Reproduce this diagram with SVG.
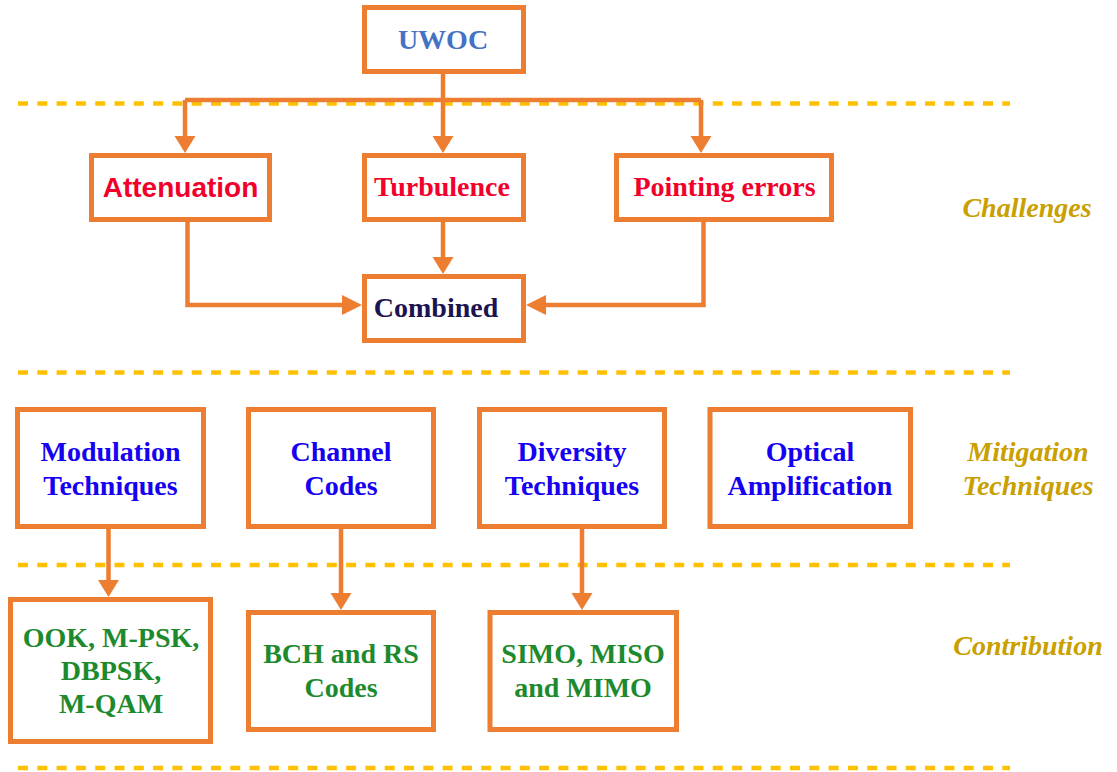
<svg xmlns="http://www.w3.org/2000/svg" width="1117" height="772" viewBox="0 0 1117 772">
  <style>
    .box { fill: #ffffff; stroke: #ED7D31; stroke-width: 5; }
    .conn { fill: none; stroke: #ED7D31; stroke-width: 4.5; }
    .sep { fill: none; stroke: #FFC000; stroke-width: 4.5; stroke-dasharray: 10 9.3; }
    .serif { font-family: "Liberation Serif", "Times New Roman", serif; font-weight: bold; font-size: 28px; text-anchor: middle; }
    .sans { font-family: "Liberation Sans", Arial, sans-serif; font-weight: bold; font-size: 28px; text-anchor: middle; }
    .red { fill: #F2002B; }
    .blue { fill: #1600F2; }
    .green { fill: #1E8A2E; }
    .gold { fill: #C9A000; font-style: italic; }
  </style>
  <defs>
    <marker id="arrowDown" markerUnits="userSpaceOnUse" markerWidth="18" markerHeight="22" refX="0" refY="10.5" orient="auto" overflow="visible">
      <path d="M0,0 L17,10.5 L0,21 z" fill="#ED7D31"/>
    </marker>
    <marker id="arrowSide" markerUnits="userSpaceOnUse" markerWidth="21" markerHeight="21" refX="0" refY="10" orient="auto" overflow="visible">
      <path d="M0,0 L20,10 L0,20 z" fill="#ED7D31"/>
    </marker>
  </defs>

  <!-- section separators -->
  <g id="separators">
    <line class="sep" x1="18" y1="103.5" x2="1010" y2="103.5"/>
    <line class="sep" x1="18" y1="372.5" x2="1010" y2="372.5"/>
    <line class="sep" x1="18" y1="565" x2="1010" y2="565"/>
    <line class="sep" x1="18" y1="768" x2="1010" y2="768"/>
  </g>

  <!-- connectors -->
  <g id="connectors">
    <path class="conn" d="M185,100 H701"/>
    <path class="conn" d="M185,100 V136" marker-end="url(#arrowDown)"/>
    <path class="conn" d="M443,74 V136" marker-end="url(#arrowDown)"/>
    <path class="conn" d="M701,100 V136" marker-end="url(#arrowDown)"/>
    <path class="conn" d="M187.5,222 V305 H342" marker-end="url(#arrowSide)"/>
    <path class="conn" d="M443,222 V257" marker-end="url(#arrowDown)"/>
    <path class="conn" d="M703.5,222 V305 H546" marker-end="url(#arrowSide)"/>
    <path class="conn" d="M108.5,529 V580" marker-end="url(#arrowDown)"/>
    <path class="conn" d="M341,529 V593" marker-end="url(#arrowDown)"/>
    <path class="conn" d="M582,529 V593" marker-end="url(#arrowDown)"/>
  </g>

  <g id="uwoc">
    <rect class="box" x="364.5" y="7.5" width="159" height="64"/>
    <text class="serif" x="443" y="49" fill="#4472C4">UWOC</text>
  </g>

  <g id="attenuation">
    <rect class="box" x="91.5" y="155.5" width="178" height="64"/>
    <text class="sans red" x="180.5" y="197">Attenuation</text>
  </g>

  <g id="turbulence">
    <rect class="box" x="364.5" y="155.5" width="159" height="64"/>
    <text class="serif red" x="442" y="196">Turbulence</text>
  </g>

  <g id="pointing-errors">
    <rect class="box" x="616.5" y="155.5" width="215" height="64"/>
    <text class="serif red" x="724.5" y="196">Pointing errors</text>
  </g>

  <g id="combined">
    <rect class="box" x="364.5" y="276.5" width="159" height="64"/>
    <text class="serif" x="436" y="317" fill="#1B1450">Combined</text>
  </g>

  <g id="modulation">
    <rect class="box" x="17.5" y="409.5" width="186" height="117"/>
    <text class="serif blue" x="110.5" y="461">Modulation</text>
    <text class="serif blue" x="110.5" y="495">Techniques</text>
  </g>

  <g id="channel-codes">
    <rect class="box" x="248.5" y="409.5" width="185" height="117"/>
    <text class="serif blue" x="341" y="461">Channel</text>
    <text class="serif blue" x="341" y="495">Codes</text>
  </g>

  <g id="diversity">
    <rect class="box" x="479.5" y="409.5" width="185" height="117"/>
    <text class="serif blue" x="572" y="461">Diversity</text>
    <text class="serif blue" x="572" y="495">Techniques</text>
  </g>

  <g id="optical-amplification">
    <rect class="box" x="710" y="409.5" width="200.5" height="117"/>
    <text class="serif blue" x="810" y="461">Optical</text>
    <text class="serif blue" x="810" y="495">Amplification</text>
  </g>

  <g id="modulation-schemes">
    <rect class="box" x="10.5" y="599.5" width="200" height="142"/>
    <text class="serif green" x="111" y="647">OOK, M-PSK,</text>
    <text class="serif green" x="111" y="680">DBPSK,</text>
    <text class="serif green" x="111" y="713">M-QAM</text>
  </g>

  <g id="bch-rs">
    <rect class="box" x="248.5" y="612.5" width="185" height="117"/>
    <text class="serif green" x="341" y="663">BCH and RS</text>
    <text class="serif green" x="341" y="697">Codes</text>
  </g>

  <g id="simo-miso-mimo">
    <rect class="box" x="490" y="612.5" width="186.5" height="117"/>
    <text class="serif green" x="583" y="663">SIMO, MISO</text>
    <text class="serif green" x="583" y="697">and MIMO</text>
  </g>

  <!-- section labels -->
  <g id="section-labels">
    <text class="serif gold" x="1027" y="217">Challenges</text>
    <text class="serif gold" x="1028" y="461">Mitigation</text>
    <text class="serif gold" x="1028" y="495">Techniques</text>
    <text class="serif gold" x="1028" y="655">Contribution</text>
  </g>
</svg>
